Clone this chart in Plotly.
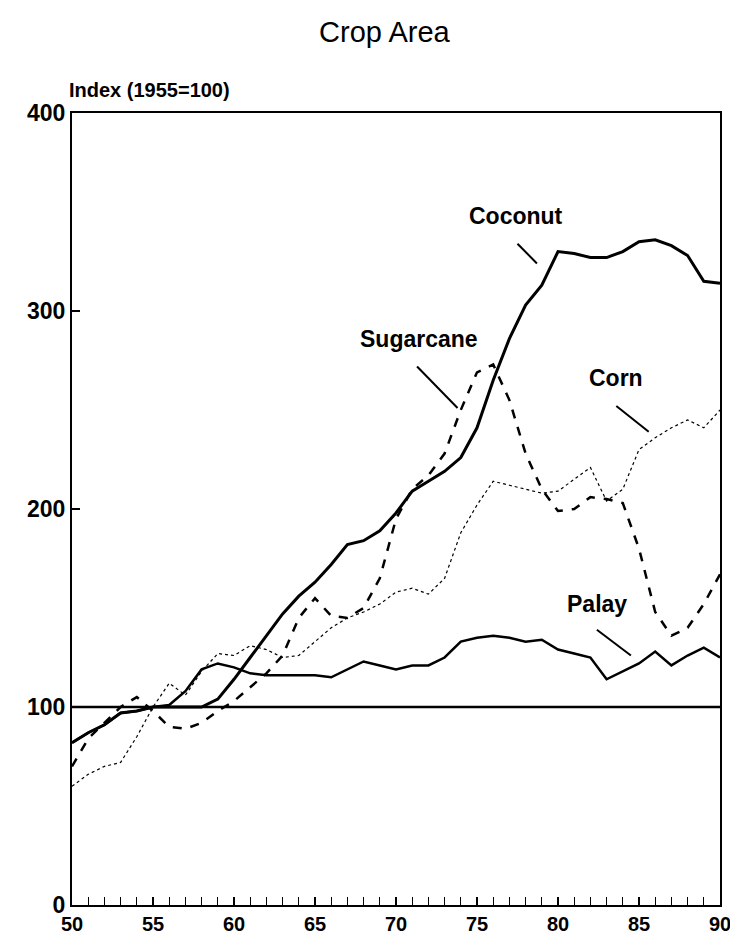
import plotly.graph_objects as go

years = list(range(1950, 1991))
yr = [y - 1900 for y in years]

coconut = [82, 87, 91, 97, 98, 100, 100, 100, 100, 104,
           114, 125, 136, 147, 156, 163, 172, 182, 184, 189,
           198, 209, 214, 219, 226, 241, 265, 286, 303, 313,
           330, 329, 327, 327, 330, 335, 336, 333, 328, 315, 314]
palay = [82, 87, 91, 97, 98, 100, 101, 108, 119, 122,
         120, 117, 116, 116, 116, 116, 115, 119, 123, 121,
         119, 121, 121, 125, 133, 135, 136, 135, 133, 134,
         129, 127, 125, 114, 118, 122, 128, 121, 126, 130, 125]
sugarcane = [70, 84, 92, 100, 105, 98, 90, 89, 92, 98,
             103, 110, 117, 126, 145, 155, 146, 145, 150, 165,
             195, 210, 217, 228, 250, 269, 273, 255, 228, 210,
             199, 200, 206, 205, 203, 180, 148, 136, 140, 152, 167]
corn = [60, 66, 70, 72, 85, 100, 112, 106, 118, 127,
        126, 131, 129, 125, 126, 133, 140, 145, 148, 152,
        158, 160, 157, 165, 188, 202, 214, 212, 210, 208,
        209, 215, 221, 204, 210, 230, 236, 241, 245, 241, 250]

xticks = [50, 55, 60, 65, 70, 75, 80, 85, 90]
yticks = [0, 100, 200, 300, 400]

# label text, label pos, leader start, leader end (data coords)
labels = [
    ("Coconut", 77.4, 348, (77.5, 334), (78.7, 324)),
    ("Sugarcane", 71.4, 286, (71.3, 272), (73.8, 251)),
    ("Corn", 83.6, 266, (83.6, 252), (85.6, 239)),
    ("Palay", 82.4, 152, (82.4, 139), (84.5, 126)),
]

font = "Liberation Sans, Arial, sans-serif"

fig = go.Figure()
fig.add_trace(go.Scatter(x=yr, y=corn, mode="lines",
                         line=dict(color="black", width=1.2, dash="dot")))
fig.add_trace(go.Scatter(x=yr, y=sugarcane, mode="lines",
                         line=dict(color="black", width=2.5, dash="dash")))
fig.add_trace(go.Scatter(x=yr, y=palay, mode="lines",
                         line=dict(color="black", width=2.5)))
fig.add_trace(go.Scatter(x=yr, y=coconut, mode="lines",
                         line=dict(color="black", width=3)))

fig.add_hline(y=100, line=dict(color="black", width=2.5))

for txt, lx, ly, p0, p1 in labels:
    fig.add_annotation(x=lx, y=ly, text="<b>%s</b>" % txt, showarrow=False,
                       font=dict(size=23, color="black", family=font))
    fig.add_shape(type="line", x0=p0[0], y0=p0[1], x1=p1[0], y1=p1[1],
                  line=dict(color="black", width=2))

fig.add_annotation(x=0, y=1, xref="paper", yref="paper", xanchor="left",
                   yanchor="bottom", yshift=10, xshift=-5, showarrow=False,
                   text="<b>Index (1955=100)</b>",
                   font=dict(size=20, color="black", family=font))

fig.update_layout(
    width=738, height=947,
    margin=dict(l=64, r=26, t=105, b=50),
    paper_bgcolor="white", plot_bgcolor="white",
    showlegend=False,
    title=dict(text="Crop Area", x=0.51, xanchor="center",
               y=0.975, yanchor="middle",
               font=dict(size=29, color="black", family=font)),
)
fig.update_xaxes(range=[50, 90], tickvals=xticks,
                 ticktext=["<b>%d</b>" % v for v in xticks],
                 ticks="inside", ticklen=8, tickwidth=1.5, tickcolor="black",
                 minor=dict(dtick=1, ticks="inside", ticklen=8, tickwidth=1.2,
                            tickcolor="black"),
                 showline=True, linewidth=2, linecolor="black", mirror=True,
                 showgrid=False, zeroline=False,
                 tickfont=dict(size=20, color="black", family=font))
fig.update_yaxes(range=[0, 400], tickvals=yticks,
                 ticktext=["<b>%d</b>" % v for v in yticks],
                 ticks="inside", ticklen=8, tickwidth=2, tickcolor="black",
                 showline=True, linewidth=2, linecolor="black", mirror=True,
                 showgrid=False, zeroline=False,
                 tickfont=dict(size=23, color="black", family=font))

fig.write_html("out.html")
